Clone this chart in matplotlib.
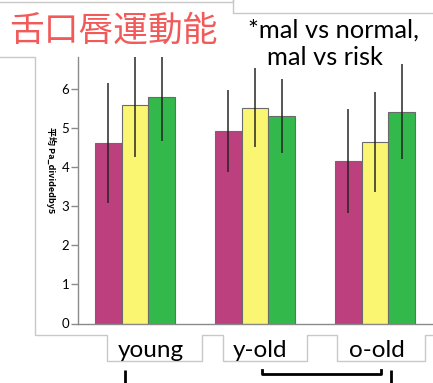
import matplotlib
matplotlib.use("Agg")
import matplotlib.pyplot as plt
import numpy as np

# --- data -------------------------------------------------------------
groups = ["young", "y-old", "o-old"]
series_names = ["mal", "risk", "normal"]
means_mal = [4.62, 4.93, 4.16]
means_risk = [5.60, 5.53, 4.65]
means_normal = [5.80, 5.32, 5.43]
err_mal = [1.54, 1.05, 1.33]
err_risk = [1.34, 1.02, 1.29]
err_normal = [1.12, 0.94, 1.22]
yticks = [0, 1, 2, 3, 4, 5, 6]
title_text = "舌口唇運動能"
note_lines = ["*mal vs normal,", "mal vs risk"]
ylabel_text = "平均 Pa_dividedby5"

colors = ["#bc3f7e", "#fbf671", "#33b84b"]

W, H = 433, 383
fig = plt.figure(figsize=(W / 100, H / 100), dpi=100)
fig.patch.set_facecolor("white")


def fx(px):
    return px / W


def fy(py):
    return 1 - py / H


# main bar axes, placed in pixel units
left, right, top, bottom = 77.5, 433, 57, 323.5
ax = fig.add_axes([fx(left), fy(bottom), fx(right) - fx(left), fy(top) - fy(bottom)])

x = np.arange(len(groups))
bw = 0.2222
all_means = [means_mal, means_risk, means_normal]
all_errs = [err_mal, err_risk, err_normal]
for i, (m, e, c) in enumerate(zip(all_means, all_errs, colors)):
    pos = x + (i - 1) * bw
    ax.bar(pos, m, width=bw, color=c, edgecolor="#6a6a6a", linewidth=0.8, zorder=2)
    ax.errorbar(pos, m, yerr=e, fmt="none", ecolor="#222222", elinewidth=1.2,
                capsize=0, zorder=3, alpha=0.9)

ax.set_xlim((left - 135) / 120, (right - 135) / 120)
ax.set_ylim(0, (bottom - top) / 39.03)
ax.set_yticks(yticks)
ax.set_yticklabels([str(t) for t in yticks], fontfamily="Lato", fontsize=9.5)
ax.set_xticks([])
for s in ["top", "right"]:
    ax.spines[s].set_visible(False)
for s in ["left", "bottom"]:
    ax.spines[s].set_color("#8a8a8a")
    ax.spines[s].set_linewidth(1.0)
ax.tick_params(axis="y", direction="out", length=5, width=1, color="#8a8a8a", pad=1)
ax.set_facecolor("white")

# overlay in pixel coordinates for frames, labels and annotations
ov = fig.add_axes([0, 0, 1, 1], zorder=5)
ov.set_xlim(0, W)
ov.set_ylim(H, 0)
ov.axis("off")

grey = "#c8c8c8"
# title box and note box borders
ov.plot([0, 233, 233], [1.7, 1.7, 0], color=grey, lw=1)
ov.plot([233, 233, W], [0, 13, 13], color=grey, lw=1)
# chart frame with label tabs
fx_pts = [0, 35, 35, 106.7, 106.7, 201.7, 201.7, 222.7, 222.7, 306.7, 306.7,
          337.3, 337.3, 425, 425, W]
fy_pts = [57, 57, 335, 335, 361, 361, 335, 335, 361, 361, 335, 335, 361, 361, 335, 335]
ov.plot(fx_pts, fy_pts, color=grey, lw=1)

ov.text(113, 31, title_text, color="#f25a5a", fontsize=25,
        fontfamily="Noto Sans CJK JP", ha="center", va="center")
ov.text(248, 37.7, note_lines[0], fontsize=18.3, fontfamily="Lato",
        ha="left", va="baseline", color="black")
ov.text(267, 65, note_lines[1], fontsize=18.3, fontfamily="Lato",
        ha="left", va="baseline", color="black")

ov.text(51, 170, ylabel_text, rotation=270, fontsize=6.5, fontweight="bold",
        fontfamily=["Noto Sans CJK JP", "DejaVu Sans"], ha="center", va="center")

label_x = [150.5, 260, 376.7]
for lx, g in zip(label_x, groups):
    ov.text(lx, 356.7, g, fontsize=17.5, fontfamily="Lato",
            ha="center", va="baseline", color="black")

# significance brackets
ov.plot([125, 125], [370, H], color="black", lw=2, solid_capstyle="butt")
ov.plot([261.7, 261.7, 381, 381], [370, 374.3, 374.3, 370], color="black", lw=2)
ov.plot([391, 391], [370, H], color="black", lw=2, solid_capstyle="butt")

fig.savefig("out.png", dpi=100)
